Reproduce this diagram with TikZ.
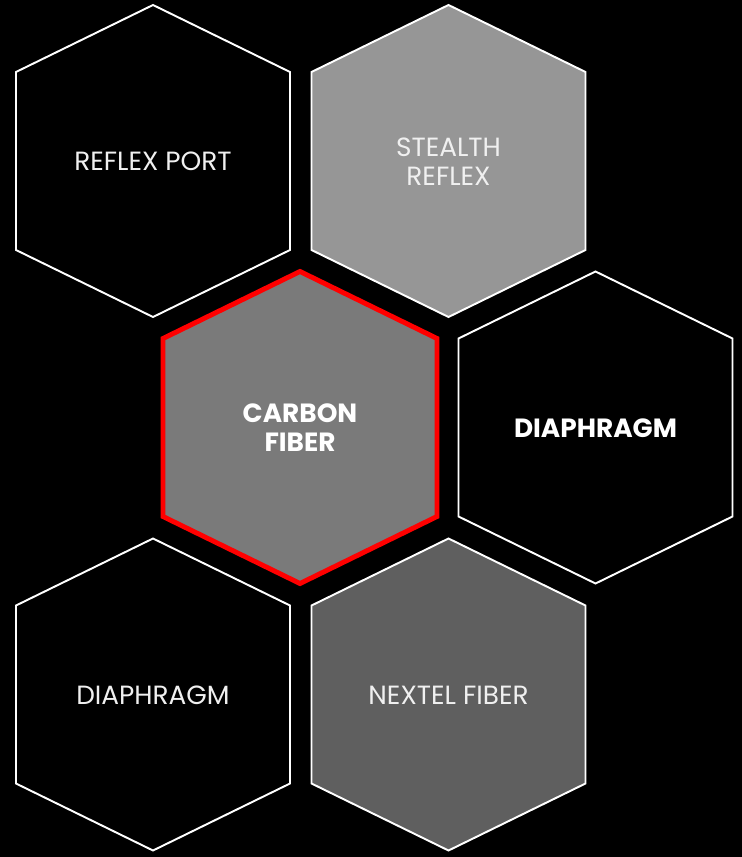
\documentclass[tikz,border=0pt]{standalone}
\usepackage{fontspec}
\setmainfont{Poppins}
\tikzset{
	hexline/.style={draw=white, line width=1.1pt},
	hexred/.style={draw=red, line width=2.8pt},
	hexlabel/.style={text=white!94!black, align=center, font=\fontsize{15}{16.5}\selectfont},
	hexbold/.style={text=white, align=center, font=\fontsize{15}{16.5}\selectfont\bfseries}
}
\definecolor{greyA}{HTML}{969696}
\definecolor{greyB}{HTML}{7A7A7A}
\definecolor{greyC}{HTML}{5F5F5F}
\newcommand{\hexpath}[1]{(#1) ++(0,-156.5) -- ++(137,67) -- ++(0,178) -- ++(-137,67) -- ++(-137,-67) -- ++(0,-178) -- cycle}
\begin{document}
\begin{tikzpicture}[x=0.02cm, y=-0.02cm]
	\fill[black] (0,0) rectangle (742,857);
	\coordinate (P1) at (153,161.5);
	\coordinate (P2) at (448.5,161.5);
	\coordinate (P3) at (300,428);
	\coordinate (P4) at (595.5,428);
	\coordinate (P5) at (153,695);
	\coordinate (P6) at (448.5,695);
	\draw[hexline] \hexpath{P1};
	\draw[hexline, fill=greyA] \hexpath{P2};
	\draw[hexred, fill=greyB] \hexpath{P3};
	\draw[hexline] \hexpath{P4};
	\draw[hexline] \hexpath{P5};
	\draw[hexline, fill=greyC] \hexpath{P6};
	\node (reflexport) at (P1) [hexlabel] {REFLEX PORT};
	\node (stealth) at (P2) [hexlabel] {STEALTH\\REFLEX};
	\node (carbon) at (P3) [hexbold] {CARBON\\FIBER};
	\node (diabold) at (P4) [hexbold] {DIAPHRAGM};
	\node (dia) at (P5) [hexlabel] {DIAPHRAGM};
	\node (nextel) at (P6) [hexlabel] {NEXTEL FIBER};
\end{tikzpicture}
\end{document}
